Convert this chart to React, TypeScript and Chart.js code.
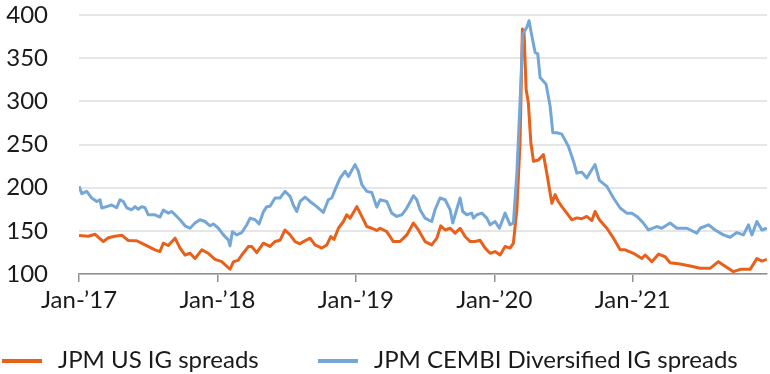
import React, { useEffect, useRef } from "react";
import { Chart, registerables } from "chart.js";

Chart.register(...registerables);

// Dates as fractional years
const usDates = [
  2017.0, 2017.067, 2017.116, 2017.176, 2017.212, 2017.26, 2017.309, 2017.356, 2017.417, 2017.477,
  2017.549, 2017.585, 2017.609, 2017.645, 2017.694, 2017.73, 2017.766, 2017.802, 2017.838, 2017.887,
  2017.934, 2017.983, 2018.031, 2018.091, 2018.115, 2018.151, 2018.176, 2018.223, 2018.248, 2018.284,
  2018.332, 2018.38, 2018.416, 2018.452, 2018.488, 2018.525, 2018.561, 2018.597, 2018.621, 2018.669,
  2018.705, 2018.754, 2018.79, 2018.819, 2018.842, 2018.874, 2018.91, 2018.934, 2018.958, 2019.007,
  2019.043, 2019.079, 2019.115, 2019.151, 2019.175, 2019.223, 2019.271, 2019.319, 2019.368, 2019.416,
  2019.452, 2019.5, 2019.548, 2019.585, 2019.613, 2019.645, 2019.681, 2019.717, 2019.753, 2019.789,
  2019.825, 2019.861, 2019.897, 2019.934, 2019.97, 2020.006, 2020.042, 2020.078, 2020.114, 2020.138,
  2020.163, 2020.186, 2020.203, 2020.215, 2020.23, 2020.246, 2020.264, 2020.283, 2020.319, 2020.355,
  2020.379, 2020.416, 2020.439, 2020.463, 2020.488, 2020.524, 2020.56, 2020.596, 2020.632, 2020.668,
  2020.705, 2020.728, 2020.759, 2020.813, 2020.861, 2020.909, 2020.945, 2021.005, 2021.066, 2021.09,
  2021.138, 2021.186, 2021.234, 2021.27, 2021.342, 2021.415, 2021.487, 2021.559, 2021.619, 2021.668,
  2021.728, 2021.776, 2021.848, 2021.897, 2021.933, 2021.969,
];
const usSpreads = [
  144.6, 143.7, 146, 137.6, 142, 143.7, 145, 138.8, 138.5, 133.7,
  128, 126, 135.7, 133, 141.5, 130, 122, 124, 118, 128,
  124, 117, 114.3, 105.5, 114, 116, 122, 131.8, 131.8, 124.8,
  135.7, 132, 137.6, 139, 151, 145.3, 137.6, 135, 137.6, 141.5,
  133.7, 130, 133.7, 143.4, 140, 153, 160.8, 168.6, 164.7, 178,
  166.7, 155, 153, 150.4, 153, 149, 137.6, 137.6, 145.3, 159,
  151, 137.6, 133.7, 141.5, 155.8, 151, 153, 147.3, 153, 143.4,
  137.6, 137.6, 139, 130, 124, 126, 122, 131.8, 130, 135.7,
  174.4, 252, 383.7, 380, 314, 298.4, 252, 230.6, 232, 238.4,
  217, 182, 191.9, 184, 178, 170.5, 162.8, 165, 164, 166.7,
  162, 172.4, 162.8, 153, 141.5, 128, 128, 124, 118, 122,
  114.3, 123, 120, 113, 111.6, 109.3, 106.6, 106.6, 114.3, 109,
  102.7, 105.4, 105.4, 118, 115, 117,
];

const cembiDates = [
  2017.0, 2017.02, 2017.056, 2017.092, 2017.128, 2017.152, 2017.164, 2017.2, 2017.236, 2017.272,
  2017.296, 2017.32, 2017.345, 2017.381, 2017.405, 2017.428, 2017.453, 2017.477, 2017.501, 2017.549,
  2017.585, 2017.609, 2017.645, 2017.67, 2017.694, 2017.73, 2017.766, 2017.802, 2017.838, 2017.874,
  2017.91, 2017.947, 2017.97, 2018.007, 2018.043, 2018.079, 2018.091, 2018.108, 2018.139, 2018.176,
  2018.212, 2018.236, 2018.272, 2018.301, 2018.332, 2018.356, 2018.38, 2018.416, 2018.452, 2018.488,
  2018.525, 2018.548, 2018.573, 2018.597, 2018.633, 2018.669, 2018.717, 2018.765, 2018.801, 2018.826,
  2018.85, 2018.886, 2018.922, 2018.946, 2018.994, 2019.018, 2019.043, 2019.079, 2019.115, 2019.151,
  2019.175, 2019.223, 2019.259, 2019.296, 2019.332, 2019.368, 2019.416, 2019.44, 2019.464, 2019.5,
  2019.524, 2019.548, 2019.572, 2019.608, 2019.645, 2019.681, 2019.7, 2019.724, 2019.753, 2019.772,
  2019.801, 2019.837, 2019.849, 2019.874, 2019.91, 2019.946, 2019.97, 2020.006, 2020.037, 2020.078,
  2020.114, 2020.138, 2020.163, 2020.186, 2020.206, 2020.235, 2020.251, 2020.271, 2020.295, 2020.314,
  2020.331, 2020.374, 2020.403, 2020.423, 2020.452, 2020.488, 2020.535, 2020.572, 2020.596, 2020.632,
  2020.668, 2020.705, 2020.728, 2020.759, 2020.813, 2020.861, 2020.909, 2020.957, 2020.994, 2021.03,
  2021.077, 2021.113, 2021.174, 2021.21, 2021.27, 2021.319, 2021.391, 2021.463, 2021.487, 2021.547,
  2021.595, 2021.655, 2021.704, 2021.752, 2021.8, 2021.836, 2021.861, 2021.897, 2021.933, 2021.969,
];
const cembiSpreads = [
  201.5, 193, 195.7, 188, 184, 186, 176.4, 178, 180, 176.7,
  186, 184, 176.7, 174.4, 178, 175, 178, 176.7, 168.6, 168.6,
  166, 174, 170.5, 172.4, 168.6, 162.8, 155.8, 153, 159, 162.8,
  160.8, 155.8, 158, 153, 145.3, 139.5, 132.6, 149, 145.3, 148,
  157, 164.7, 162.8, 158, 172, 178, 178.5, 188, 188, 195.7,
  190, 180, 172.4, 184, 189, 184, 178, 171.3, 186, 188,
  197.7, 211, 219, 213, 226.7, 219, 203.5, 195.7, 194.5, 177.5,
  186, 184, 170.5, 166.7, 168.6, 176.4, 190.7, 186, 174.4, 164.7,
  162.8, 160.8, 174.4, 188, 186, 174.4, 159, 172.4, 188, 172.4,
  168.6, 170.5, 164.7, 168.6, 170.5, 164.7, 157, 160.8, 153, 170.5,
  157, 159, 217, 298.4, 378, 385.7, 393.4, 376, 356.6, 355,
  327.5, 319.8, 294.6, 263.6, 263.6, 262, 248, 230.6, 217, 218,
  211.3, 221, 226.7, 208.5, 201.5, 188, 176.4, 170.5, 170.5, 166.7,
  159, 151, 155, 153, 159, 153, 153, 147.3, 153, 157,
  151, 145.3, 142.6, 148, 145.3, 157, 145.3, 160.8, 151, 153,
];

const seriesNames = ["JPM US IG spreads", "JPM CEMBI Diversified IG spreads"];
const seriesColors = ["#E8601A", "#74A7D8"];
const yearTicks = [2017, 2018, 2019, 2020, 2021];
const yearLabels = ["Jan-\u201917", "Jan-\u201918", "Jan-\u201919", "Jan-\u201920", "Jan-\u201921"];
const yMin = 100;
const yMax = 400;
const yStep = 50;

const FONT = "Lato, 'Open Sans', sans-serif";
const FONT_SIZE = 24;
const TEXT_COLOR = "#1a1a1a";

const legendPlugin = {
  id: "bottomLegend",
  afterDraw(chart: any) {
    const ctx = chart.ctx as CanvasRenderingContext2D;
    const starts = [2, 318];
    const lineY = 361;
    const baseline = 368;
    ctx.save();
    ctx.font = `${FONT_SIZE}px ${FONT}`;
    ctx.fillStyle = TEXT_COLOR;
    ctx.textBaseline = "alphabetic";
    ctx.textAlign = "left";
    chart.data.datasets.forEach((ds: any) => {
      const x0 = starts[ds.legendIndex];
      ctx.strokeStyle = ds.borderColor;
      ctx.lineWidth = 4;
      ctx.lineCap = "butt";
      ctx.beginPath();
      ctx.moveTo(x0, lineY);
      ctx.lineTo(x0 + 40, lineY);
      ctx.stroke();
      ctx.fillText(ds.label, x0 + 56, baseline);
    });
    ctx.restore();
  },
};

export default function App() {
  const canvasRef = useRef<HTMLCanvasElement | null>(null);

  useEffect(() => {
    if (!canvasRef.current) return;
    const chart = new Chart(canvasRef.current, {
      type: "line",
      data: {
        datasets: [
          {
            label: seriesNames[1],
            legendIndex: 1,
            data: cembiDates.map((d, i) => ({ x: d, y: cembiSpreads[i] })),
            borderColor: seriesColors[1],
            borderWidth: 3,
            pointRadius: 0,
            tension: 0,
            borderJoinStyle: "round",
            order: 0,
          } as any,
          {
            label: seriesNames[0],
            legendIndex: 0,
            data: usDates.map((d, i) => ({ x: d, y: usSpreads[i] })),
            borderColor: seriesColors[0],
            borderWidth: 3,
            pointRadius: 0,
            tension: 0,
            borderJoinStyle: "round",
            order: 1,
          } as any,
        ],
      },
      options: {
        animation: false,
        responsive: false,
        devicePixelRatio: 1,
        layout: { padding: { top: 15, right: 3, left: 0, bottom: 0 } },
        plugins: {
          legend: { display: false },
          tooltip: { enabled: false },
        },
        scales: {
          x: {
            type: "linear",
            min: 2017,
            max: 2021.97,
            afterBuildTicks: (scale: any) => {
              scale.ticks = yearTicks.map((v) => ({ value: v }));
            },
            afterFit: (scale: any) => {
              scale.height = 100;
            },
            ticks: {
              autoSkip: false,
              maxRotation: 0,
              padding: 4,
              color: TEXT_COLOR,
              font: { family: FONT, size: FONT_SIZE },
              callback: (v: any) => {
                const i = yearTicks.indexOf(Number(v));
                return i >= 0 ? yearLabels[i] : "";
              },
            },
            grid: {
              drawOnChartArea: false,
              drawTicks: true,
              tickLength: 8,
              color: "#8f8f8f",
              lineWidth: 1.5,
            },
            border: { display: true, color: "#8f8f8f", width: 1.5 },
          },
          y: {
            min: yMin,
            max: yMax,
            afterFit: (scale: any) => {
              scale.width = 79;
            },
            ticks: {
              stepSize: yStep,
              padding: 0,
              color: TEXT_COLOR,
              font: { family: FONT, size: FONT_SIZE },
            },
            grid: {
              drawTicks: true,
              tickLength: 31,
              tickColor: "rgba(0,0,0,0)",
              color: "#e6e6e6",
              lineWidth: 2,
            },
            border: { display: false },
          },
        },
      } as any,
      plugins: [legendPlugin],
    });
    return () => chart.destroy();
  }, []);

  return (
    <div style={{ position: "fixed", left: 0, top: 0, width: 770, height: 374, background: "#fff" }}>
      <canvas ref={canvasRef} width={770} height={374} style={{ width: 770, height: 374, display: "block" }} />
    </div>
  );
}
